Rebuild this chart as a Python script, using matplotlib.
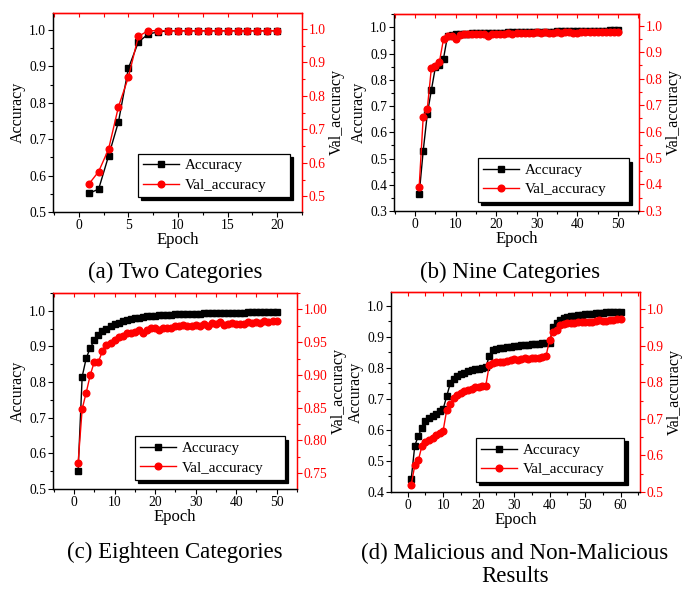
import matplotlib
matplotlib.use("Agg")
import matplotlib.pyplot as plt
from matplotlib.lines import Line2D
from matplotlib.ticker import MultipleLocator, FormatStrFormatter

plt.rcParams["font.family"] = ["Liberation Serif", "DejaVu Serif"]
plt.rcParams["axes.linewidth"] = 0.9

# ---------------- data ----------------
# (a) Two Categories, 20 epochs
epochs_a = list(range(1, 21))
acc_a = [0.551, 0.563, 0.654, 0.748, 0.895, 0.967, 0.989, 0.995, 0.998, 0.998,
         0.998, 0.998, 0.998, 0.998, 0.998, 0.998, 0.998, 0.998, 0.998, 0.998]
val_a = [0.536, 0.574, 0.641, 0.768, 0.856, 0.978, 0.995, 0.995, 0.995, 0.995,
         0.995, 0.995, 0.995, 0.995, 0.995, 0.995, 0.995, 0.995, 0.995, 0.995]

# (b) Nine Categories, 50 epochs
epochs_b = list(range(1, 51))
acc_b = [0.364, 0.530, 0.669, 0.760, 0.848, 0.856, 0.881, 0.968, 0.972, 0.974,
         0.975, 0.976, 0.976, 0.977, 0.977, 0.978, 0.978, 0.979, 0.979, 0.980,
         0.980, 0.980, 0.981, 0.981, 0.982, 0.982, 0.982, 0.983, 0.983, 0.983,
         0.984, 0.984, 0.984, 0.984, 0.985, 0.985, 0.985, 0.985, 0.986, 0.986,
         0.986, 0.986, 0.986, 0.987, 0.987, 0.987, 0.987, 0.988, 0.988, 0.988]
val_b = [0.391, 0.656, 0.685, 0.839, 0.849, 0.864, 0.949, 0.959, 0.962, 0.950,
         0.966, 0.968, 0.967, 0.968, 0.969, 0.968, 0.969, 0.962, 0.970, 0.969,
         0.969, 0.970, 0.971, 0.970, 0.972, 0.973, 0.972, 0.973, 0.971, 0.974,
         0.973, 0.974, 0.973, 0.972, 0.974, 0.973, 0.975, 0.974, 0.973, 0.973,
         0.975, 0.974, 0.975, 0.976, 0.975, 0.976, 0.976, 0.975, 0.977, 0.976]

# (c) Eighteen Categories, 50 epochs
epochs_c = list(range(1, 51))
acc_c = [0.551, 0.815, 0.867, 0.896, 0.917, 0.931, 0.942, 0.950, 0.958, 0.963,
         0.967, 0.971, 0.974, 0.977, 0.979, 0.981, 0.982, 0.984, 0.985, 0.986,
         0.987, 0.988, 0.988, 0.989, 0.990, 0.990, 0.991, 0.991, 0.992, 0.992,
         0.992, 0.993, 0.993, 0.993, 0.994, 0.994, 0.994, 0.994, 0.995, 0.995,
         0.995, 0.995, 0.996, 0.996, 0.996, 0.996, 0.996, 0.997, 0.997, 0.997]
val_c = [0.766, 0.848, 0.873, 0.900, 0.920, 0.920, 0.936, 0.946, 0.949, 0.953,
         0.958, 0.959, 0.964, 0.964, 0.966, 0.968, 0.964, 0.968, 0.971, 0.971,
         0.969, 0.971, 0.971, 0.972, 0.974, 0.975, 0.976, 0.975, 0.975, 0.976,
         0.975, 0.977, 0.975, 0.979, 0.978, 0.980, 0.976, 0.978, 0.979, 0.977,
         0.978, 0.978, 0.980, 0.979, 0.981, 0.979, 0.983, 0.980, 0.982, 0.983]

# (d) Malicious and Non-Malicious, 60 epochs
epochs_d = list(range(1, 61))
acc_d = [0.443, 0.549, 0.581, 0.607, 0.628, 0.638, 0.645, 0.652, 0.660, 0.668,
         0.709, 0.750, 0.763, 0.773, 0.780, 0.785, 0.789, 0.792, 0.795, 0.797,
         0.799, 0.802, 0.838, 0.858, 0.861, 0.863, 0.865, 0.867, 0.869, 0.871,
         0.872, 0.873, 0.874, 0.875, 0.876, 0.877, 0.878, 0.879, 0.880, 0.882,
         0.933, 0.946, 0.955, 0.960, 0.963, 0.966, 0.968, 0.970, 0.971, 0.973,
         0.974, 0.975, 0.976, 0.977, 0.978, 0.979, 0.980, 0.980, 0.981, 0.982]
val_d = [0.520, 0.573, 0.587, 0.625, 0.637, 0.641, 0.648, 0.655, 0.660, 0.668,
         0.724, 0.740, 0.757, 0.766, 0.772, 0.776, 0.780, 0.783, 0.787, 0.788,
         0.789, 0.790, 0.847, 0.853, 0.855, 0.856, 0.855, 0.858, 0.861, 0.863,
         0.862, 0.865, 0.866, 0.864, 0.866, 0.867, 0.866, 0.869, 0.872, 0.916,
         0.938, 0.943, 0.956, 0.960, 0.961, 0.962, 0.963, 0.964, 0.965, 0.964,
         0.965, 0.964, 0.968, 0.970, 0.968, 0.968, 0.970, 0.971, 0.973, 0.973]

RED = "#ff0000"


def panel(rect, x, acc, val, xlim, ylim, y2lim, xmajor, y2major, y2fmt, legbox):
    ax = fig.add_axes(rect)
    ax2 = ax.twinx()
    ax.plot(x, acc, "-s", color="k", lw=1.0, ms=4.4, zorder=3)
    ax2.plot(x, val, "-o", color=RED, lw=1.0, ms=4.8, zorder=4)
    ax.set_xlim(*xlim)
    ax.set_ylim(*ylim)
    ax2.set_ylim(*y2lim)

    ax.xaxis.set_major_locator(MultipleLocator(xmajor))
    ax.xaxis.set_minor_locator(MultipleLocator(xmajor / 2))
    ax.yaxis.set_major_locator(MultipleLocator(0.1))
    ax.yaxis.set_minor_locator(MultipleLocator(0.05))
    ax.yaxis.set_major_formatter(FormatStrFormatter("%.1f"))
    ax2.yaxis.set_major_locator(MultipleLocator(y2major))
    ax2.yaxis.set_minor_locator(MultipleLocator(y2major / 2))
    ax2.yaxis.set_major_formatter(FormatStrFormatter(y2fmt))

    ax.tick_params(which="both", direction="out", labelsize=9.8, pad=1.5,
                   top=False, right=False)
    ax.tick_params(which="major", length=3.5, width=0.8)
    ax.tick_params(which="minor", length=2.0, width=0.8)
    ax2.tick_params(which="both", direction="out", colors=RED, labelsize=9.8,
                    pad=1.5)
    ax2.tick_params(which="major", length=3.5, width=0.8)
    ax2.tick_params(which="minor", length=2.0, width=0.8)

    for a in (ax, ax2):
        a.spines["top"].set_color(RED)
        a.spines["right"].set_color(RED)
        a.spines["left"].set_color("k")
        a.spines["bottom"].set_color("k")

    top = ax.secondary_xaxis("top")
    top.xaxis.set_major_locator(MultipleLocator(xmajor / 2))
    top.tick_params(direction="in", colors=RED, length=3.0, width=0.8,
                    labeltop=False)
    top.spines["top"].set_color(RED)

    ax.set_xlabel("Epoch", fontsize=12, labelpad=0)
    ax.set_ylabel("Accuracy", fontsize=11.5, labelpad=2)
    ax2.set_ylabel("Val_accuracy", fontsize=11.5, color="k", labelpad=2)

    handles = [
        Line2D([], [], color="k", marker="s", lw=1.0, ms=4.4),
        Line2D([], [], color=RED, marker="o", lw=1.0, ms=4.8),
    ]
    leg = ax2.legend(handles, ["Accuracy", "Val_accuracy"], loc="lower left",
                     bbox_to_anchor=legbox, mode="expand", borderaxespad=0,
                     fontsize=10.8, frameon=True, fancybox=False, numpoints=1,
                     handlelength=2.4, handletextpad=0.35, labelspacing=0.4,
                     borderpad=0.35,
                     shadow={"ox": 2.4, "oy": -2.4, "facecolor": "k",
                             "edgecolor": "k", "alpha": 1.0})
    leg.get_frame().set_edgecolor("k")
    leg.get_frame().set_linewidth(0.9)
    leg.set_zorder(10)
    return ax, ax2


fig = plt.figure(figsize=(6.83, 5.89), dpi=100)

panel([0.0776, 0.640, 0.3646, 0.338], epochs_a, acc_a, val_a,
      (-2.6, 22.5), (0.5, 1.047), (0.453, 1.048), 5, 0.1, "%.1f",
      (0.341, 0.075, 0.611, 0.0))
panel([0.5769, 0.6418, 0.3587, 0.3345], epochs_b, acc_b, val_b,
      (-5.2, 55.2), (0.3, 1.051), (0.3, 1.044), 10, 0.1, "%.1f",
      (0.343, 0.047, 0.616, 0.0))
panel([0.0776, 0.1698, 0.3570, 0.3328], epochs_c, acc_c, val_c,
      (-5.2, 55.0), (0.5, 1.05), (0.726, 1.025), 10, 0.05, "%.2f",
      (0.336, 0.046, 0.615, 0.0))
panel([0.5725, 0.1647, 0.3646, 0.3396], epochs_d, acc_d, val_d,
      (-4.7, 65.5), (0.4, 1.045), (0.5, 1.047), 10, 0.1, "%.1f",
      (0.341, 0.052, 0.596, 0.0))

cap = dict(ha="center", va="center", fontsize=16.5)
fig.text(175 / 683, 1 - 272 / 589, "(a) Two Categories", **cap)
fig.text(510 / 683, 1 - 272 / 589, "(b) Nine Categories", **cap)
fig.text(175 / 683, 1 - 552 / 589, "(c) Eighteen Categories", **cap)
fig.text(515 / 683, 1 - 565 / 589, "(d) Malicious and Non-Malicious\nResults",
         linespacing=1.12, **cap)

fig.savefig("out.png", dpi=100)
